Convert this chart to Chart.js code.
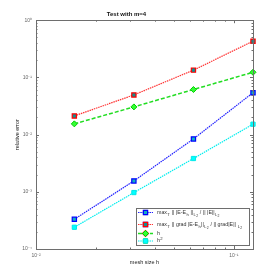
<!DOCTYPE html>
<html>
<head>
<meta charset="utf-8">
<script src="https://cdn.jsdelivr.net/npm/chart.js@4.4.1/dist/chart.umd.min.js"></script>
<style>
  html, body { margin: 0; padding: 0; background: #fff; }
  #wrap { width: 280px; height: 280px; }
</style>
</head>
<body>
<div id="wrap"><canvas id="c" width="280" height="280"></canvas></div>
<script>
// data
const meshSizes = [0.015625, 0.03125, 0.0625, 0.125];
const errL2 = [3.3e-4, 1.55e-3, 8.4e-3, 0.054];
const errGrad = [0.0212, 0.0494, 0.134, 0.43];
const refH = [0.0154, 0.0305, 0.0614, 0.123];
const refH2 = [2.4e-4, 9.7e-4, 3.82e-3, 0.0152];

const seriesLabels = [
  "max_T || |E-E_h ||_{L_2} / || |E||_{L_2}",
  "max_T || grad |E-E_h||_{L_2} / || grad|E|| _{L_2}",
  "h",
  "h^2",
];

const xTicks = [0.01, 0.1];
const xTickLabels = ["10\u207B\u00B2", "10\u207B\u00B9"];
const yTicks = [1e-4, 1e-3, 1e-2, 1e-1, 1];
const yTickLabels = ["10\u207B\u2074", "10\u207B\u00B3", "10\u207B\u00B2", "10\u207B\u00B9", "10\u2070"];

const FONT = "'Liberation Sans', Arial, sans-serif";
const AXIS = "#6e6e6e";

function pts(ys) {
  return meshSizes.map((x, i) => ({ x, y: ys[i] }));
}

// tiny tex-ish parser: _x, _{..}, ^x, ^{..}
function parseTex(s) {
  const out = [];
  function walk(str, lvl) {
    let i = 0, buf = "";
    const flush = () => { if (buf) { out.push({ t: buf, lvl }); buf = ""; } };
    while (i < str.length) {
      const c = str[i];
      if ((c === "_" || c === "^") && i + 1 < str.length) {
        flush();
        let arg;
        if (str[i + 1] === "{") {
          let depth = 0, j = i + 1;
          for (; j < str.length; j++) {
            if (str[j] === "{") depth++;
            else if (str[j] === "}") { depth--; if (!depth) break; }
          }
          arg = str.slice(i + 2, j);
          i = j + 1;
        } else {
          arg = str[i + 1];
          i += 2;
        }
        walk(arg, lvl + (c === "_" ? -1 : 1));
      } else {
        buf += c;
        i++;
      }
    }
    flush();
  }
  walk(s, 0);
  return out;
}

function drawTex(ctx, str, x, y, size) {
  ctx.textBaseline = "middle";
  ctx.textAlign = "left";
  for (const seg of parseTex(str)) {
    const fs = size * Math.pow(0.8, Math.abs(seg.lvl));
    ctx.font = `${fs}px ${FONT}`;
    const dy = seg.lvl < 0 ? -seg.lvl * size * 0.38 : -seg.lvl * size * 0.42;
    ctx.fillText(seg.t, x, y + dy);
    x += ctx.measureText(seg.t).width + 0.3;
  }
}

function minorValues(min, max) {
  const vals = [];
  for (let d = Math.floor(Math.log10(min)); d <= Math.ceil(Math.log10(max)); d++) {
    for (let k = 1; k <= 9; k++) {
      const v = k * Math.pow(10, d);
      if (v >= min * 0.999 && v <= max * 1.001) vals.push({ v, major: k === 1 });
    }
  }
  return vals;
}

const frame = {
  id: "frame",
  afterDatasetsDraw(chart) {
    const { ctx, chartArea: a, scales } = chart;
    ctx.save();
    ctx.strokeStyle = AXIS;
    ctx.lineWidth = 1;
    ctx.beginPath();
    for (const t of minorValues(scales.x.min, scales.x.max)) {
      const px = Math.round(scales.x.getPixelForValue(t.v)) + 0.5;
      const len = t.major ? 3 : 1.5;
      ctx.moveTo(px, a.bottom); ctx.lineTo(px, a.bottom - len);
      ctx.moveTo(px, a.top); ctx.lineTo(px, a.top + len);
    }
    for (const t of minorValues(scales.y.min, scales.y.max)) {
      const py = Math.round(scales.y.getPixelForValue(t.v)) + 0.5;
      const len = t.major ? 3 : 1.5;
      ctx.moveTo(a.left, py); ctx.lineTo(a.left + len, py);
      ctx.moveTo(a.right, py); ctx.lineTo(a.right - len, py);
    }
    ctx.stroke();
    ctx.strokeRect(Math.round(a.left) + 0.5, Math.round(a.top) + 0.5,
      Math.round(a.right - a.left), Math.round(a.bottom - a.top));
    ctx.restore();
  },
  afterDraw(chart) {
    const { ctx } = chart;
    const bx = 136.5, by = 208.5, bw = 113, bh = 37;
    const rows = [212.5, 224.5, 233.5, 241];
    ctx.save();
    ctx.fillStyle = "#fff";
    ctx.fillRect(bx, by, bw, bh);
    ctx.strokeStyle = AXIS;
    ctx.lineWidth = 1;
    ctx.strokeRect(bx, by, bw, bh);
    chart.data.datasets.forEach((ds, i) => {
      const y = rows[i];
      ctx.save();
      ctx.strokeStyle = ds.borderColor;
      ctx.lineWidth = ds.borderWidth;
      ctx.setLineDash(ds.borderDash || []);
      ctx.beginPath();
      ctx.moveTo(138, y);
      ctx.lineTo(153, y);
      ctx.stroke();
      ctx.restore();
      Chart.helpers.drawPoint(ctx, {
        pointStyle: ds.pointStyle,
        radius: ds.pointRadius,
        borderWidth: ds.pointBorderWidth,
        rotation: 0,
      }, 145.5, y);
      ctx.fillStyle = ds.pointBackgroundColor;
      ctx.strokeStyle = ds.pointBorderColor;
      ctx.lineWidth = ds.pointBorderWidth;
      ctx.fill();
      ctx.stroke();
      ctx.fillStyle = "#333";
      drawTex(ctx, ds.label, 157, y, 5.3);
    });
    ctx.restore();
  },
};

new Chart(document.getElementById("c"), {
  type: "line",
  data: {
    datasets: [
      {
        label: seriesLabels[0], data: pts(errL2),
        borderColor: "#2222ff", borderWidth: 1.2, borderDash: [1.5, 0.8],
        pointStyle: "rect", pointRadius: 3, pointBorderWidth: 1.2,
        pointBackgroundColor: "#10b0c0", pointBorderColor: "#0000ff",
      },
      {
        label: seriesLabels[1], data: pts(errGrad),
        borderColor: "#ff3333", borderWidth: 1.2, borderDash: [1.5, 0.8],
        pointStyle: "rect", pointRadius: 3, pointBorderWidth: 1.2,
        pointBackgroundColor: "#109090", pointBorderColor: "#ff0000",
      },
      {
        label: seriesLabels[2], data: pts(refH),
        borderColor: "#22dd22", borderWidth: 1.5, borderDash: [4, 2],
        pointStyle: "rectRot", pointRadius: 3, pointBorderWidth: 1,
        pointBackgroundColor: "#33ff33", pointBorderColor: "#00cc00",
      },
      {
        label: seriesLabels[3], data: pts(refH2),
        borderColor: "#00eeee", borderWidth: 1.2, borderDash: [1.5, 0.8],
        pointStyle: "rect", pointRadius: 3, pointBorderWidth: 1,
        pointBackgroundColor: "#00ffff", pointBorderColor: "#00e8e8",
      },
    ],
  },
  options: {
    responsive: false,
    animation: false,
    layout: { padding: { left: 0, right: 27, top: 0, bottom: 0 } },
    datasets: { line: { clip: false, tension: 0, fill: false } },
    plugins: {
      legend: { display: false },
      tooltip: { enabled: false },
      title: {
        display: true,
        text: "Test with m=4",
        color: "#111",
        font: { family: FONT, size: 6, weight: "bold" },
        padding: { top: 11, bottom: 2 },
      },
    },
    scales: {
      x: {
        type: "logarithmic",
        min: 0.01, max: 0.125,
        afterBuildTicks: (s) => { s.ticks = xTicks.map((v) => ({ value: v })); },
        afterFit: (s) => { s.height = 31; },
        grid: { display: false, drawTicks: false },
        border: { display: false },
        ticks: {
          color: "#666", padding: 4, maxRotation: 0, autoSkip: false,
          font: { family: FONT, size: 5 },
          callback: (v, i) => xTickLabels[i],
        },
        title: {
          display: true, text: "mesh size h", color: "#222",
          font: { family: FONT, size: 5.5 },
          padding: { top: 0, bottom: 14 },
        },
      },
      y: {
        type: "logarithmic",
        min: 1e-4, max: 1,
        afterBuildTicks: (s) => { s.ticks = yTicks.map((v) => ({ value: v })); },
        afterFit: (s) => { s.width = 36; },
        grid: { display: false, drawTicks: false },
        border: { display: false },
        ticks: {
          color: "#666", padding: 4, autoSkip: false,
          font: { family: FONT, size: 5 },
          callback: (v, i) => yTickLabels[i],
        },
        title: {
          display: true, text: "relative error", color: "#222",
          font: { family: FONT, size: 5.5 },
          padding: { top: 14, bottom: 0 },
        },
      },
    },
  },
  plugins: [frame],
});
</script>
</body>
</html>
